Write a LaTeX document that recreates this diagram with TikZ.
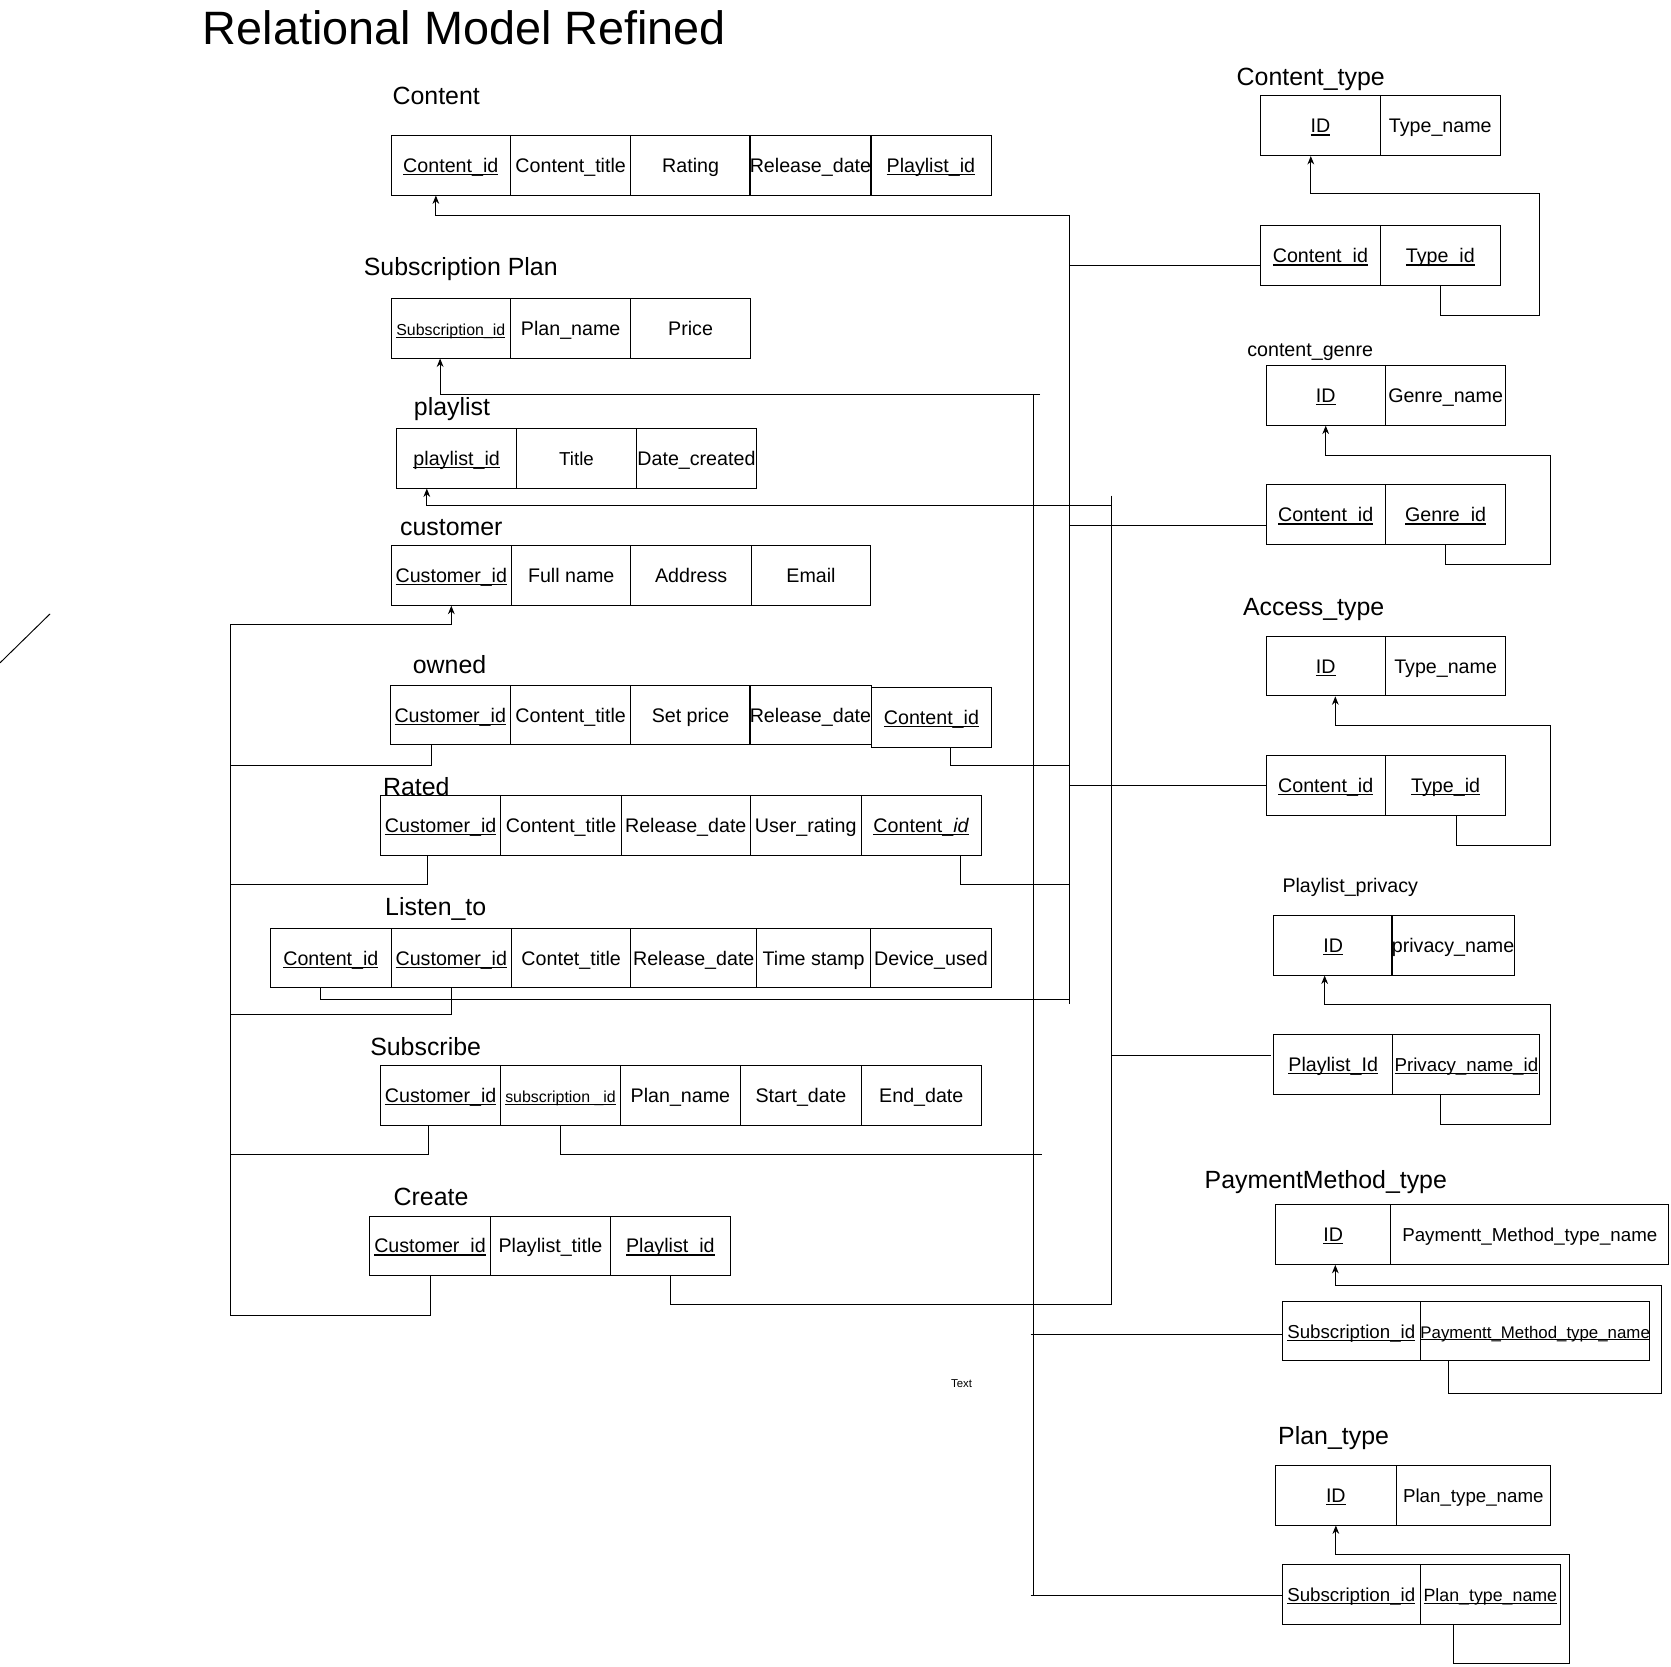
\documentclass[tikz,border=0pt]{standalone}
\usepackage{fontspec}
\setmainfont{Liberation Sans}
\usetikzlibrary{arrows.meta,calc}
\newcommand{\keyu}[1]{\leavevmode\setbox0\hbox{#1}\rlap{\rule[-0.14em]{\wd0}{0.06em}}\box0}

\begin{document}
\begin{tikzpicture}[x=0.02cm, y=-0.02cm, >={Stealth[length=4.5pt,width=3.6pt]}, line width=0.5pt,
  cell/.style={draw, inner sep=0pt, minimum height=1.12cm, text height=8.5pt, text depth=1pt, font=\fontsize{10.5}{12}\selectfont},
  tname/.style={anchor=west, inner sep=0pt, text height=10.5pt, text depth=1pt, font=\fontsize{13.3}{15}\selectfont},
  sname/.style={anchor=west, inner sep=0pt, text height=8.5pt, text depth=1pt, font=\fontsize{10.5}{12}\selectfont}]
\useasboundingbox (0,0) rectangle (1568,1564);

\node[anchor=west, inner sep=0pt, text height=19pt, text depth=1pt, font=\fontsize{25}{28}\selectfont] (title) at (190,26) {Relational Model Refined};

\node[tname] (lcontent) at (368,90) {Content};
\foreach \n/\a/\b/\t in {1/367/479/\keyu{Content\_id}, 2/479/592/Content\_title, 3/592/704/Rating, 4/704/817/Release\_date, 5/817/930/\keyu{Playlist\_id}}
  \node[cell, minimum width={(\b-\a)*0.02cm}] (con\n) at ({(\a+\b)/2},155) {\t};

\node[tname] (lsub) at (341,250) {Subscription Plan};
\foreach \n/\a/\b/\t in {1/367/479/{\fontsize{8.5}{10}\selectfont\keyu{Subscription\_id}}, 2/479/592/Plan\_name, 3/592/704/Price}
  \node[cell, minimum width={(\b-\a)*0.02cm}] (sub\n) at ({(\a+\b)/2},308) {\t};

\node[tname] (lply) at (388,382) {playlist};
\foreach \n/\a/\b/\t in {1/372/485/\keyu{playlist\_id}, 2/485/597/{\fontsize{10}{12}\selectfont Title}, 3/597/710/Date\_created}
  \node[cell, minimum width={(\b-\a)*0.02cm}] (ply\n) at ({(\a+\b)/2},430) {\t};

\node[tname] (lcus) at (375,494) {customer};
\foreach \n/\a/\b/\t in {1/367/480/\keyu{Customer\_id}, 2/480/592/Full name, 3/592/705/Address, 4/705/817/Email}
  \node[cell, minimum width={(\b-\a)*0.02cm}] (cus\n) at ({(\a+\b)/2},540) {\t};

\node[tname] (lown) at (387,624) {owned};
\foreach \n/\a/\b/\t in {1/366/479/\keyu{Customer\_id}, 2/479/592/Content\_title, 3/592/704/Set price, 4/704/817/Release\_date}
  \node[cell, minimum width={(\b-\a)*0.02cm}] (own\n) at ({(\a+\b)/2},671) {\t};
\node[cell, minimum width=2.24cm] (own5) at (874,673) {\keyu{Content\_id}};

\node[tname] (lrat) at (359,738) {Rated};
\foreach \n/\a/\b/\t in {1/357/470/\keyu{Customer\_id}, 2/470/583/Content\_title, 3/583/704/Release\_date, 4/704/808/User\_rating, 5/808/921/\keyu{Content\_\textit{id}}}
  \node[cell, minimum width={(\b-\a)*0.02cm}] (rat\n) at ({(\a+\b)/2},774.5) {\t};

\node[tname] (llis) at (361,851) {Listen\_to};
\foreach \n/\a/\b/\t in {1/254/367/\keyu{Content\_id}, 2/367/480/\keyu{Customer\_id}, 3/480/592/Contet\_title, 4/592/710/Release\_date, 5/710/817/Time stamp, 6/817/930/Device\_used}
  \node[cell, minimum width={(\b-\a)*0.02cm}] (lis\n) at ({(\a+\b)/2},899) {\t};

\node[tname] (lsbs) at (347,982) {Subscribe};
\foreach \n/\a/\b/\t in {1/357/470/\keyu{Customer\_id}, 2/470/582/{\fontsize{8.5}{10}\selectfont\keyu{subscription \_id}}, 3/582/695/Plan\_name, 4/695/808/Start\_date, 5/808/921/End\_date}
  \node[cell, minimum width={(\b-\a)*0.02cm}] (sbs\n) at ({(\a+\b)/2},1028) {\t};

\node[tname] (lcre) at (369,1123) {Create};
\foreach \n/\a/\b/\t in {1/347/460/\keyu{Customer\_id}, 2/460/573/Playlist\_title, 3/573/685/\keyu{Playlist\_id}}
  \node[cell, minimum width={(\b-\a)*0.02cm}] (cre\n) at ({(\a+\b)/2},1169) {\t};

\node[tname] (lct) at (1160,72) {Content\_type};
\foreach \n/\a/\b/\t in {1/1183/1295/\keyu{ID}, 2/1295/1408/Type\_name}
  \node[cell, minimum width={(\b-\a)*0.02cm}] (ct\n) at ({(\a+\b)/2},118) {\t};
\foreach \n/\a/\b/\t in {1/1183/1295/\keyu{Content\_id}, 2/1295/1408/\keyu{Type\_id}}
  \node[cell, minimum width={(\b-\a)*0.02cm}] (ctb\n) at ({(\a+\b)/2},240) {\t};

\node[sname] (lcg) at (1170,328) {content\_genre};
\foreach \n/\a/\b/\t in {1/1188/1300/\keyu{ID}, 2/1300/1413/Genre\_name}
  \node[cell, minimum width={(\b-\a)*0.02cm}] (cg\n) at ({(\a+\b)/2},371) {\t};
\foreach \n/\a/\b/\t in {1/1188/1300/\keyu{Content\_id}, 2/1300/1413/\keyu{Genre\_id}}
  \node[cell, minimum width={(\b-\a)*0.02cm}] (cgb\n) at ({(\a+\b)/2},483) {\t};

\node[tname] (lac) at (1166,569) {Access\_type};
\foreach \n/\a/\b/\t in {1/1188/1300/\keyu{ID}, 2/1300/1413/Type\_name}
  \node[cell, minimum width={(\b-\a)*0.02cm}] (ac\n) at ({(\a+\b)/2},625) {\t};
\foreach \n/\a/\b/\t in {1/1188/1300/\keyu{Content\_id}, 2/1300/1413/\keyu{Type\_id}}
  \node[cell, minimum width={(\b-\a)*0.02cm}] (acb\n) at ({(\a+\b)/2},737) {\t};

\node[sname] (lpp) at (1203,831) {Playlist\_privacy};
\foreach \n/\a/\b/\t in {1/1195/1307/\keyu{ID}, 2/1307/1420/privacy\_name}
  \node[cell, minimum width={(\b-\a)*0.02cm}] (pp\n) at ({(\a+\b)/2},887) {\t};
\foreach \n/\a/\b/\t in {1/1195/1307/\keyu{Playlist\_Id}, 2/1307/1445/{\fontsize{10}{12}\selectfont\keyu{Privacy\_name\_id}}}
  \node[cell, minimum width={(\b-\a)*0.02cm}] (ppb\n) at ({(\a+\b)/2},999) {\t};

\node[tname] (lpm) at (1130,1107) {PaymentMethod\_type};
\foreach \n/\a/\b/\t in {1/1197/1305/\keyu{ID}, 2/1305/1566/{\fontsize{10}{12}\selectfont Paymentt\_Method\_type\_name}}
  \node[cell, minimum width={(\b-\a)*0.02cm}] (pm\n) at ({(\a+\b)/2},1158.5) {\t};
\foreach \n/\a/\b/\t in {1/1203/1333/{\fontsize{10}{12}\selectfont\keyu{Subscription\_id}}, 2/1333/1548/{\fontsize{9}{11}\selectfont\keyu{Paymentt\_Method\_type\_name}}}
  \node[cell, minimum width={(\b-\a)*0.02cm}] (pmb\n) at ({(\a+\b)/2},1249) {\t};

\node[tname] (lpt) at (1199,1347) {Plan\_type};
\foreach \n/\a/\b/\t in {1/1197/1310/\keyu{ID}, 2/1310/1455/{\fontsize{10}{12}\selectfont Plan\_type\_name}}
  \node[cell, minimum width={(\b-\a)*0.02cm}] (pt\n) at ({(\a+\b)/2},1403) {\t};
\foreach \n/\a/\b/\t in {1/1203/1333/{\fontsize{10}{12}\selectfont\keyu{Subscription\_id}}, 2/1333/1464/{\fontsize{9.5}{11}\selectfont\keyu{Plan\_type\_name}}}
  \node[cell, minimum width={(\b-\a)*0.02cm}] (ptb\n) at ({(\a+\b)/2},1496) {\t};

\node[anchor=west, inner sep=0pt, font=\fontsize{6.1}{7}\selectfont] (txt) at (892,1298) {Text};
\draw (0,622) -- (47,576);

\coordinate (cbT) at (1004,202);
\coordinate (cbB) at (1004,942);
\coordinate (cbOwn) at (1004,718);
\coordinate (cbRat) at (1004,830);
\coordinate (cbLis) at (1004,938);
\coordinate (ctl) at ($(ctb1.west)+(0,9)$);
\coordinate (cgl) at ($(cgb1.west)+(0,10)$);
\draw[->] (cbT) -| ($(con1.south)+(-14,0)$);
\draw (cbT) -- (cbB);
\draw (cbT |- ctl) -- (ctl);
\draw (cbT |- cgl) -- (cgl);
\draw (cbT |- acb1.west) -- (acb1.west);
\draw ($(own5.south)+(18,0)$) |- (cbOwn);
\draw ($(rat5.south)+(37,0)$) |- (cbRat);
\draw ($(lis1.south)+(-10,0)$) |- (cbLis);

\coordinate (sbT) at (970,370);
\coordinate (sbE) at (976,370);
\coordinate (sbB) at (970,1497);
\coordinate (sbSbs) at (978,1083);
\coordinate (sbPay) at (967,1252);
\draw[->] (sbE) -| ($(sub1.south)+(-10,0)$);
\draw (sbT) -- (sbB);
\draw (sbs2.south) |- (sbSbs);
\draw (sbPay) -- (sbPay -| pmb1.west);
\draw ($(sbB)+(-3,0)$) -- (sbB -| ptb1.west);

\coordinate (pbT) at (1043,465);
\coordinate (pbA) at (1043,474);
\coordinate (pbB) at (1043,1224);
\coordinate (pbl) at ($(ppb1.west)+(-2,-9)$);
\draw[->] (pbA) -| ($(ply1.south)+(-28,0)$);
\draw (pbT) -- (pbB);
\draw (pbT |- pbl) -- (pbl);
\draw (cre3.south) |- (pbB);

\coordinate (ubT) at (216,586);
\coordinate (ubB) at (216,1234);
\coordinate (ubOwn) at (216,718);
\coordinate (ubRat) at (216,830);
\coordinate (ubLis) at (216,952);
\coordinate (ubSbs) at (216,1083);
\draw[->] (ubT) -| (cus1.south);
\draw (ubT) -- (ubB);
\draw ($(own1.south)+(-18,0)$) |- (ubOwn);
\draw ($(rat1.south)+(-12,0)$) |- (ubRat);
\draw (lis2.south) |- (ubLis);
\draw ($(sbs1.south)+(-11,0)$) |- (ubSbs);
\draw (cre1.south) |- (ubB);

\coordinate (ctr1) at (1445,296);
\coordinate (ctr2) at (1445,182);
\draw[->] (ctb2.south) |- (ctr1) -- (ctr2) -| ($(ct1.south)+(-9,0)$);
\coordinate (cgr1) at (1455,530);
\coordinate (cgr2) at (1455,427);
\draw[->] (cgb2.south) |- (cgr1) -- (cgr2) -| (cg1.south);
\coordinate (acr1) at (1455,793);
\coordinate (acr2) at (1455,681);
\draw[->] ($(acb2.south)+(10,0)$) |- (acr1) -- (acr2) -| ($(ac1.south)+(9,0)$);
\coordinate (ppr1) at (1455,1055);
\coordinate (ppr2) at (1455,943);
\draw[->] ($(ppb2.south)+(-24,0)$) |- (ppr1) -- (ppr2) -| ($(pp1.south)+(-8,0)$);
\coordinate (pmr1) at (1559,1308);
\coordinate (pmr2) at (1559,1206);
\draw[->] ($(pmb2.south)+(-81,0)$) |- (pmr1) -- (pmr2) -| ($(pm1.south)+(2,0)$);
\coordinate (ptr1) at (1473,1561);
\coordinate (ptr2) at (1473,1459);
\draw[->] ($(ptb2.south)+(-35,0)$) |- (ptr1) -- (ptr2) -| (pt1.south);
\end{tikzpicture}
\end{document}
